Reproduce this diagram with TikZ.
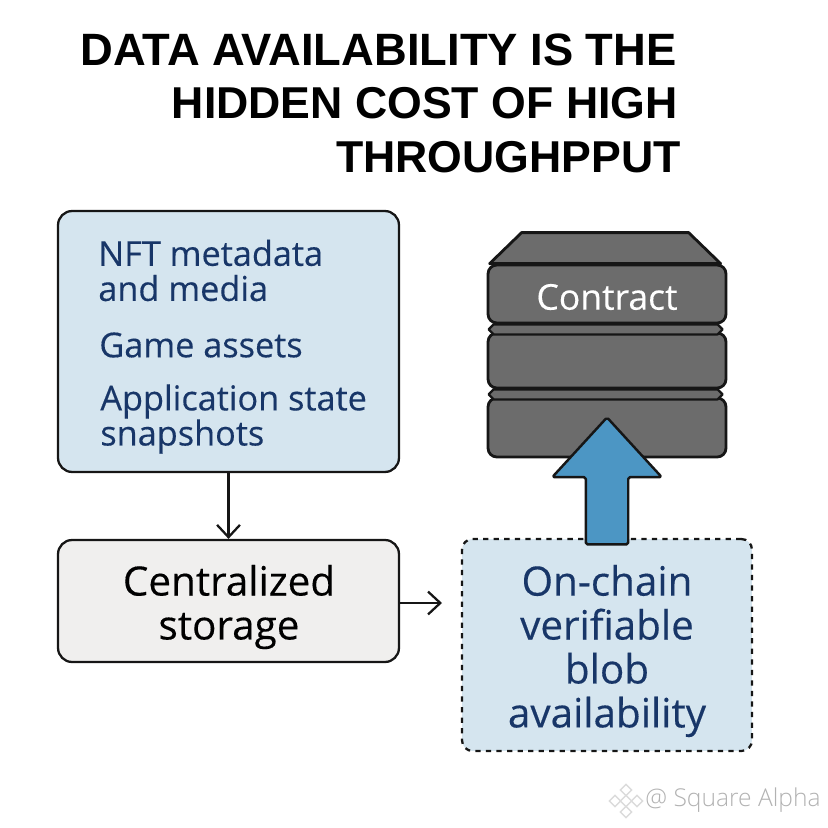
\documentclass[tikz,border=0pt]{standalone}
\usepackage{fontspec}
\setmainfont{Open Sans}[FakeBold=0.3]
\newfontfamily\titlefont{Liberation Sans}
\newfontfamily\markfont{Open Sans Light}
\usetikzlibrary{arrows.meta,shapes.arrows}
\definecolor{paleblue}{RGB}{213,229,239}
\definecolor{navy}{RGB}{24,54,104}
\definecolor{palegray}{RGB}{240,239,238}
\definecolor{stackgray}{RGB}{108,108,108}
\definecolor{arrowblue}{RGB}{76,150,196}
\definecolor{inkblack}{RGB}{22,22,22}
\tikzset{
  card/.style={draw=inkblack,line width=1.3pt,rounded corners=8pt,inner sep=0pt},
  layer/.style={draw=inkblack,fill=stackgray,line width=1.6pt,rounded corners=5pt,
    minimum width=4.76cm,inner sep=0pt},
  link/.style={draw=inkblack,line width=1.3pt,-{Straight Barb[length=7pt,width=13pt,line width=1.3pt]}},
  item/.style={anchor=west,align=left,inner sep=0pt,text=navy,font=\fontsize{19.5}{20}\selectfont},
  bigtext/.style={align=center,inner sep=0pt,font=\fontsize{23}{25}\selectfont},
  titleline/.style={anchor=east,inner sep=0pt,font=\titlefont\fontsize{#1}{28}\selectfont\bfseries,text=black}
}
\begin{document}
\begin{tikzpicture}[x=0.02cm,y=-0.02cm]
  \useasboundingbox (0,0) rectangle (828,828);
  % title
  \node[titleline=25.8] (title1) at (677,50) {DATA AVAILABILITY IS THE};
  \node[titleline=25.4] (title2) at (678,103) {HIDDEN COST OF HIGH};
  \node[titleline=25.4] (title3) at (681,157) {THROUGHPPUT};
  % left column
  \node[card,fill=paleblue,minimum width=6.82cm,minimum height=5.22cm] (source) at (228.5,341.5) {};
  \node[item] (nft) at (98,270.5) {NFT metadata\\and media};
  \node[item] (game) at (99,345) {Game assets};
  \node[item] (state) at (100,419) {Application state\\snapshots};
  \node[card,fill=palegray,minimum width=6.82cm,minimum height=2.44cm] (central) at (228.5,601) {};
  \node[bigtext] (centraltext) at (229,607) {Centralized\\storage};
  % right column
  \node[card,fill=paleblue,dashed,minimum width=5.8cm,minimum height=4.24cm,rounded corners=6pt] (blob) at (607,645) {};
  \node[bigtext,text=navy] (blobtext) at (607,651) {On-chain\\verifiable\\blob\\availability};
  % stack
  \node[layer,minimum height=1.16cm] (top) at (607,294) {};
  \node[layer,minimum height=1.10cm] (middle) at (607,360.5) {};
  \node[layer,minimum height=1.18cm] (bottom) at (607,427.5) {};
  \node[inner sep=0pt,text=white,font=\fontsize{20.2}{22}\selectfont] (toptext) at (607,297) {Contract};
  \draw[draw=inkblack,fill=stackgray,line width=1.6pt,line join=round]
    (top.north west) ++(3,0) -- ++(32,-31) -- ++(167,0) -- ++(32,31) -- cycle;
  \draw[draw=inkblack,fill=stackgray,line width=1.3pt,line join=round]
    (top.south west) ++(7,0) -- ++(-5,5) -- ++(5,5) -- ++(224,0) -- ++(5,-5) -- ++(-5,-5) -- cycle;
  \draw[draw=inkblack,fill=stackgray,line width=1.3pt,line join=round]
    (middle.south west) ++(7,0) -- ++(-5,5) -- ++(5,5) -- ++(224,0) -- ++(5,-5) -- ++(-5,-5) -- cycle;
  % connectors
  \coordinate (freeend) at (442,603);
  \draw[link] (source.south) -- (central.north);
  \draw[link] (central.east |- freeend) -- (freeend);
  \node[single arrow,rotate=90,draw=inkblack,fill=arrowblue,line width=1.4pt,line join=round,
    minimum height=2.54cm,minimum width=2.14cm,inner sep=0.4cm,single arrow tip angle=85,
    single arrow head extend=0.67cm,rounded corners=1pt] (lift) at (607,492.5) {};
  % watermark
  \foreach \mx/\my in {626/790,626/812,615/801,637/801,626/801}
    \node[draw=black!14,fill=white,line width=0.8pt,rotate=45,minimum size=0.16cm,inner sep=0pt] at (\mx,\my) {};
  \node[anchor=west,inner sep=0pt,text=black!30,font=\markfont\fontsize{14}{17}\selectfont] (mark) at (645,800) {@ Square Alpha};
\end{tikzpicture}
\end{document}
